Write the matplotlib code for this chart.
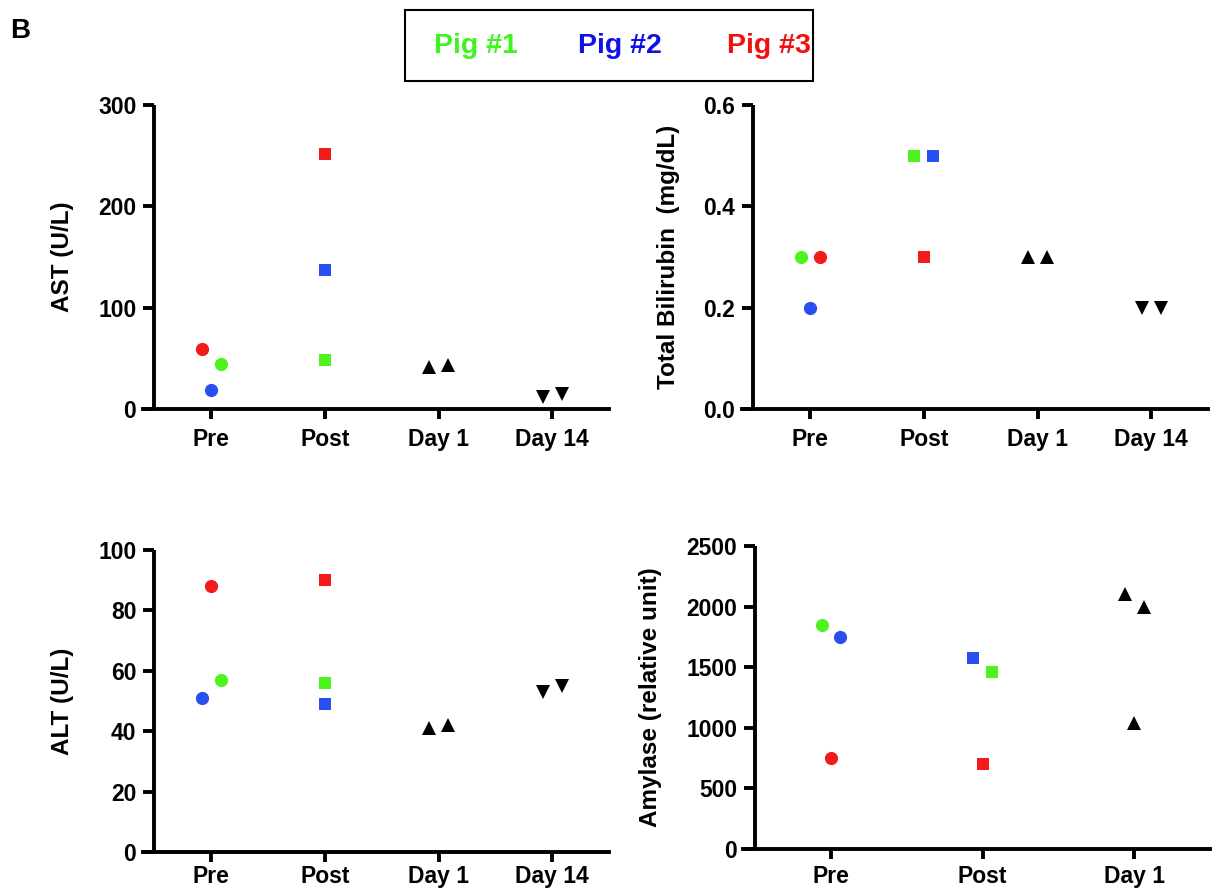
import matplotlib
matplotlib.use("Agg")
import matplotlib.pyplot as plt
from matplotlib.patches import Rectangle

plt.rcParams['font.family'] = ['Liberation Sans', 'DejaVu Sans']
plt.rcParams['font.weight'] = 'bold'

# ---- data ----
pigs = ["Pig #1", "Pig #2", "Pig #3"]
pig_colors = ["#4df31c", "#2a4ff0", "#f21a1a"]
legend_colors = ["#3cf51a", "#1010e8", "#f01010"]

tp4 = ["Pre", "Post", "Day 1", "Day 14"]
tp3 = ["Pre", "Post", "Day 1"]

# AST (U/L): Pre, Post per pig; Day1, Day14 black
ast_pre = [44, 19, 59]
ast_post = [48, 137, 252]
ast_day1 = [41, 43]
ast_day14 = [12, 15]
ast_pre_jit = [1, 0, -1]
ast_post_jit = [0, 0, 0]

# Total Bilirubin (mg/dL)
bil_pre = [0.3, 0.2, 0.3]
bil_post = [0.5, 0.5, 0.3]
bil_day1 = [0.3, 0.3]
bil_day14 = [0.2, 0.2]
bil_pre_jit = [-1, 0, 1]
bil_post_jit = [-1, 1, 0]

# ALT (U/L)
alt_pre = [57, 51, 88]
alt_post = [56, 49, 90]
alt_day1 = [41, 42]
alt_day14 = [53, 55]
alt_pre_jit = [1, -1, 0]
alt_post_jit = [0, 0, 0]

# Amylase (relative unit)
amy_pre = [1850, 1750, 750]
amy_post = [1460, 1580, 700]
amy_day1 = [2100, 2000, 1040]
amy_pre_jit = [-1, 1, 0]
amy_post_jit = [1, -1, 0]
amy_day1_jit = [-1, 1, 0]

fig = plt.figure(figsize=(12.12, 8.9), dpi=100)

W, H = 1212, 890


def make_ax(l, r, t, b):
    return fig.add_axes([l / W, (H - b) / H, (r - l) / W, (b - t) / H])


def style(ax, ncat, ymax, yticks, yticklabels, ylabel, lab_x, left=-0.6, xpad=7):
    ax.set_xlim(left, ncat - 0.5)
    ax.set_ylim(0, ymax)
    for s in ['top', 'right']:
        ax.spines[s].set_visible(False)
    ax.spines['left'].set_position(('data', -0.5))
    ax.spines['left'].set_linewidth(2.8)
    ax.spines['bottom'].set_linewidth(2.8)
    ax.spines['left'].set_capstyle('butt')
    ax.set_yticks(yticks)
    ax.set_yticklabels(yticklabels, fontsize=16.5, fontweight='bold')
    ax.tick_params(axis='both', width=2.8, length=7, direction='out')
    ax.tick_params(axis='x', pad=xpad)
    ax.tick_params(axis='y', length=8, pad=5)
    ax.set_ylabel(ylabel, fontsize=17.5, fontweight='bold')
    ax.yaxis.set_label_coords(lab_x, 0.5)


def cat_ticks(ax, labels):
    ax.set_xticks(range(len(labels)))
    ax.set_xticklabels(labels, fontsize=16.5, fontweight='bold')


ms_c = 9.5
ms_s = 9
ms_tri = 9.5


def plot_panel(ax, pre, post, pre_jit, post_jit, day1, day1_jit, day14, day14_jit, jw):
    for i in range(3):
        ax.plot(0 + pre_jit[i] * jw, pre[i], 'o', color=pig_colors[i], ms=ms_c, mew=0, clip_on=False)
        ax.plot(1 + post_jit[i] * jw, post[i], 's', color=pig_colors[i], ms=ms_s, mew=0, clip_on=False)
    for v, j in zip(day1, day1_jit):
        ax.plot(2 + j * jw, v, '^', color='black', ms=ms_tri, mew=0, clip_on=False)
    if day14 is not None:
        for v, j in zip(day14, day14_jit):
            ax.plot(3 + j * jw, v, 'v', color='black', ms=ms_tri, mew=0, clip_on=False)


jw4 = 0.083
jw3 = 0.062

# Panel AST
ax1 = make_ax(143, 609, 105, 409)
plot_panel(ax1, ast_pre, ast_post, ast_pre_jit, ast_post_jit, ast_day1, [-1, 1], ast_day14, [-1, 1], jw4)
style(ax1, 4, 300, [0, 100, 200, 300], ["0", "100", "200", "300"], "AST (U/L)", -0.148)
cat_ticks(ax1, tp4)

# Panel Bilirubin
ax2 = make_ax(742, 1208, 105, 409)
plot_panel(ax2, bil_pre, bil_post, bil_pre_jit, bil_post_jit, bil_day1, [-1, 1], bil_day14, [-1, 1], jw4)
style(ax2, 4, 0.6, [0, 0.2, 0.4, 0.6], ["0.0", "0.2", "0.4", "0.6"], "Total Bilirubin  (mg/dL)", -0.133)
cat_ticks(ax2, tp4)

# Panel ALT
ax3 = make_ax(143, 609, 550, 852)
plot_panel(ax3, alt_pre, alt_post, alt_pre_jit, alt_post_jit, alt_day1, [-1, 1], alt_day14, [-1, 1], jw4)
style(ax3, 4, 100, [0, 20, 40, 60, 80, 100], ["0", "20", "40", "60", "80", "100"], "ALT (U/L)", -0.148,
      xpad=2.5)
cat_ticks(ax3, tp4)

# Panel Amylase
ax4 = make_ax(743, 1210, 546, 849)
plot_panel(ax4, amy_pre, amy_post, amy_pre_jit, amy_post_jit, amy_day1, amy_day1_jit, None, None, jw3)
style(ax4, 3, 2500, [0, 500, 1000, 1500, 2000, 2500], ["0", "500", "1000", "1500", "2000", "2500"],
      "Amylase (relative unit)", -0.173, left=-0.58, xpad=4.5)
cat_ticks(ax4, tp3)

# Panel letter
fig.text(10 / W, 1 - 31 / H, "B", fontsize=20, fontweight='bold', ha='left', va='center')

# Legend box
fig.patches.append(Rectangle((405 / W, 1 - 81 / H), (813 - 405) / W, (81 - 10) / H,
                             transform=fig.transFigure, fill=False, edgecolor='black', linewidth=1.5))
leg_x = [476, 620, 769]
for name, c, x in zip(pigs, legend_colors, leg_x):
    fig.text(x / W, 1 - 46 / H, name, color=c, fontsize=20.5, fontweight='bold', ha='center', va='center',
             family=['Liberation Sans Narrow', 'Liberation Sans', 'DejaVu Sans'])

fig.savefig("out.png", dpi=100)
